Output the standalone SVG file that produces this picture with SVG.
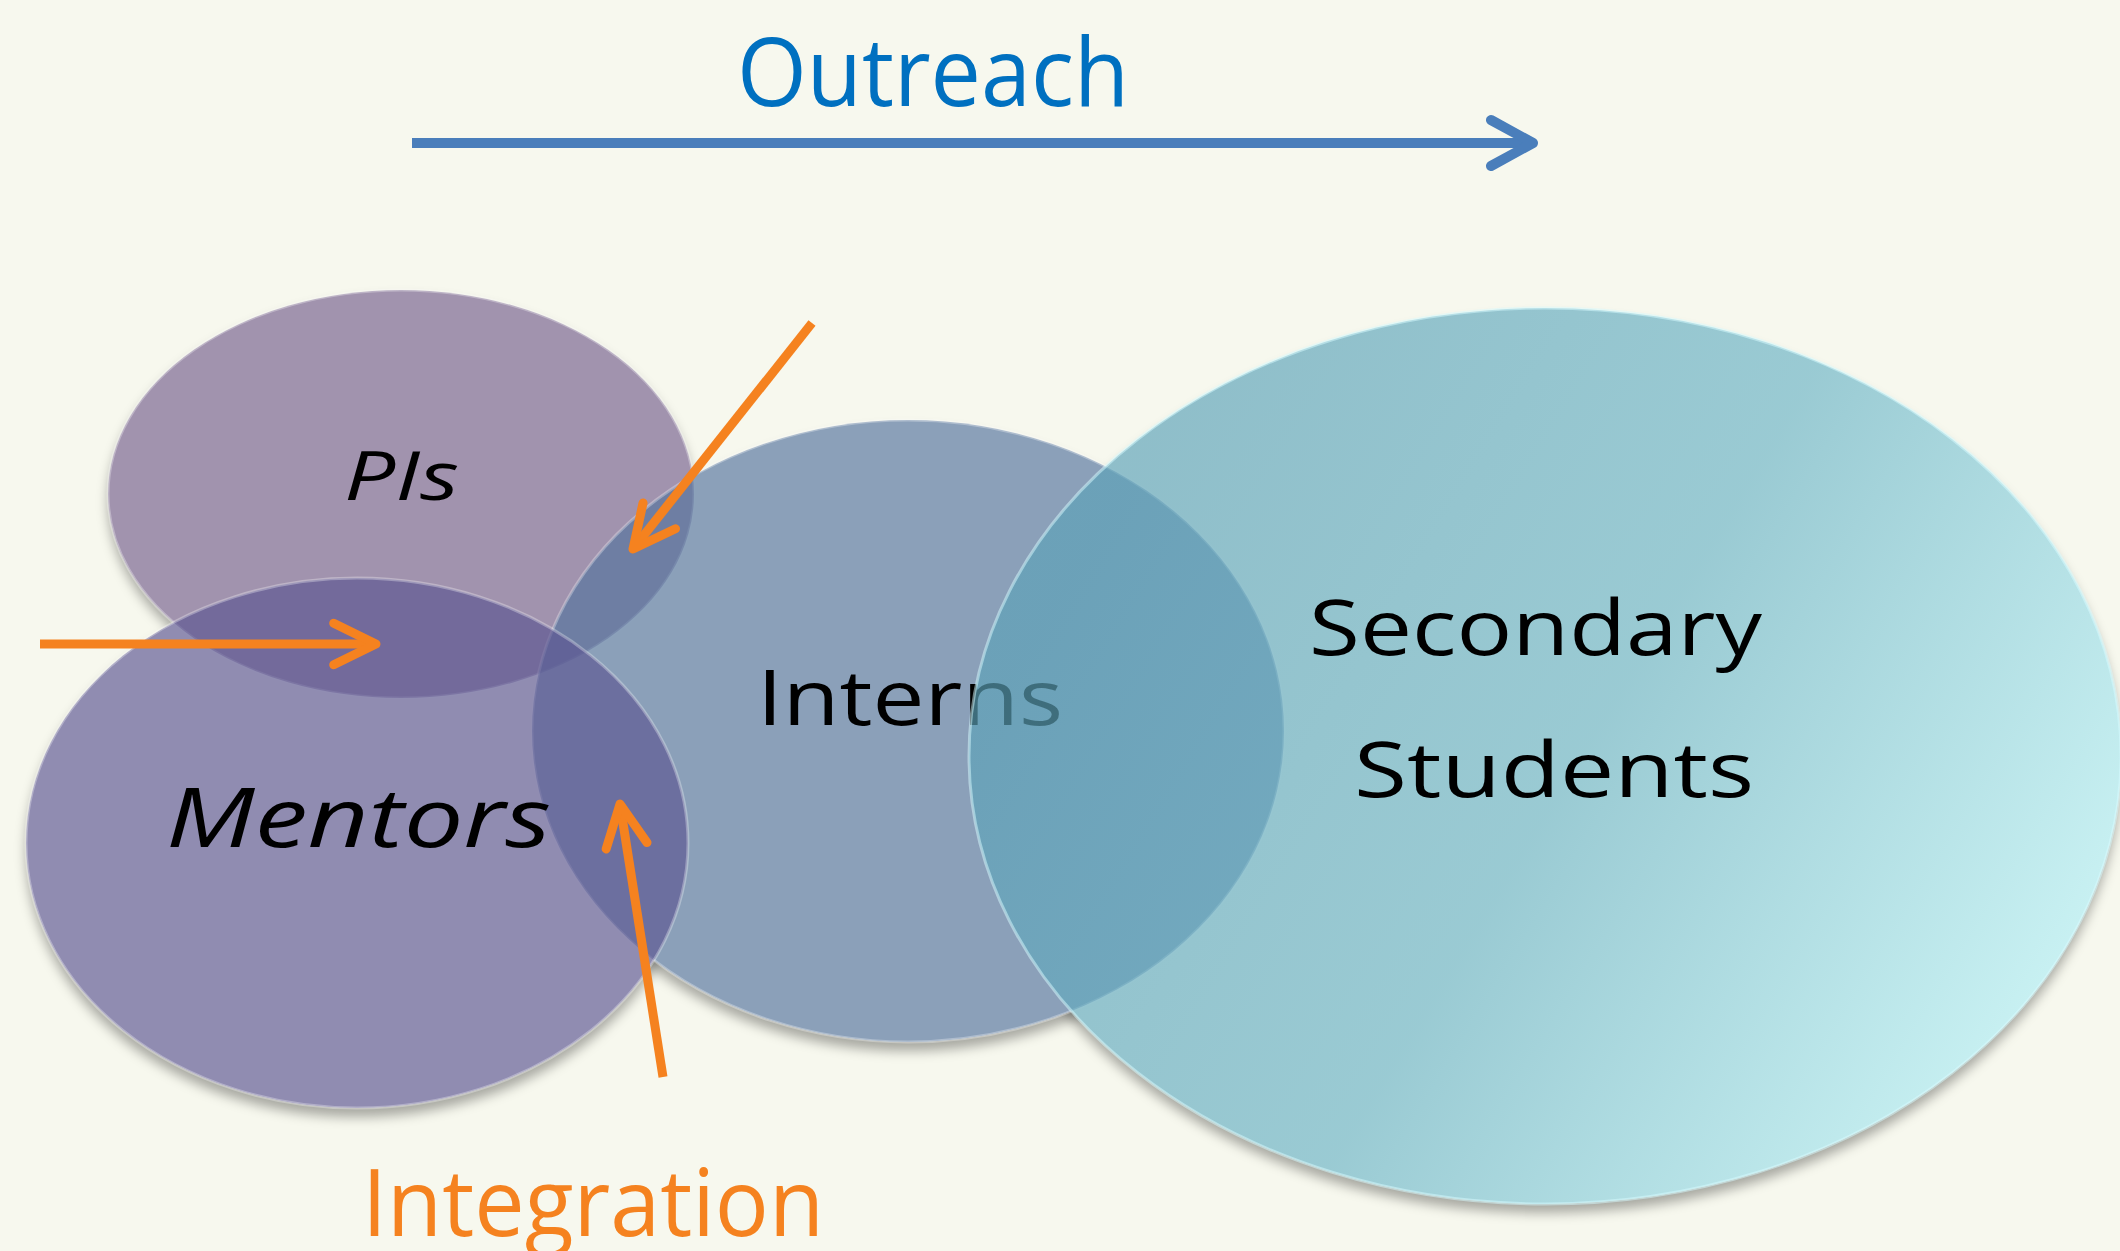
<svg xmlns="http://www.w3.org/2000/svg" width="2120" height="1251" viewBox="0 0 2120 1251">
  <style>
    .lbl { font-family: "Open Sans", "Liberation Sans", sans-serif; fill: #000000; }
    .dark { font-weight: 500; }
    .it { font-style: italic; }
    .blob { fill-opacity: 0.67; stroke: #ffffff; stroke-opacity: 0.3; stroke-width: 3; }
    .orange { fill: none; stroke: #f5821f; stroke-width: 9; marker-end: url(#oh); }
  </style>
  <defs>
    <marker id="oh" markerUnits="strokeWidth" markerWidth="10" markerHeight="10" refX="0" refY="0" orient="auto" overflow="visible">
      <path d="M-4.7,-2.3 L0,0 L-4.7,2.3" fill="none" stroke="#f5821f" stroke-width="1" stroke-linecap="round" stroke-linejoin="round"/>
    </marker>
    <marker id="bh" markerUnits="strokeWidth" markerWidth="10" markerHeight="10" refX="0" refY="0" orient="auto" overflow="visible">
      <path d="M-4.2,-2.3 L0,0 L-4.2,2.3" fill="none" stroke="#4a7ebb" stroke-width="1" stroke-linecap="round" stroke-linejoin="round"/>
    </marker>
    <linearGradient id="secGrad" gradientUnits="userSpaceOnUse" x1="1150" y1="450" x2="2050" y2="1000">
      <stop offset="0" stop-color="#5ca2b8"/>
      <stop offset="0.5" stop-color="#6cb4c6"/>
      <stop offset="1" stop-color="#b2eef5"/>
    </linearGradient>
    <filter id="blur" x="-10%" y="-10%" width="120%" height="120%">
      <feGaussianBlur stdDeviation="6"/>
    </filter>
    <mask id="outside" maskUnits="userSpaceOnUse" x="0" y="0" width="2120" height="1251">
      <rect x="0" y="0" width="2120" height="1251" fill="#ffffff"/>
      <ellipse cx="401" cy="494" rx="293" ry="204" fill="#000000"/>
      <ellipse cx="357" cy="843" rx="331" ry="265" fill="#000000"/>
      <ellipse cx="908" cy="731" rx="376" ry="311" fill="#000000"/>
      <ellipse cx="1545" cy="756" rx="576" ry="448" fill="#000000"/>
    </mask>
  </defs>

  <rect x="0" y="0" width="2120" height="1251" fill="#f7f8ee"/>

  <!-- soft shadows outside the shapes -->
  <g mask="url(#outside)">
    <g filter="url(#blur)" fill="#000000" fill-opacity="0.32">
      <ellipse cx="401" cy="502" rx="293" ry="204"/>
      <ellipse cx="357" cy="852" rx="331" ry="265"/>
      <ellipse cx="908" cy="740" rx="376" ry="311"/>
      <ellipse cx="1545" cy="765" rx="576" ry="448"/>
    </g>
  </g>

  <g id="title-outreach">
    <text class="lbl" x="737" y="106" font-size="95" textLength="392" lengthAdjust="spacingAndGlyphs" style="fill:#0070c0">Outreach</text>
  </g>

  <g id="node-pis">
    <ellipse class="blob" cx="401" cy="494" rx="293" ry="204" fill="#76618e"/>
    <text class="lbl dark it" x="344" y="500" font-size="67" textLength="115" lengthAdjust="spacingAndGlyphs">PIs</text>
  </g>

  <g id="node-interns">
    <ellipse class="blob" cx="908" cy="731" rx="376" ry="311" fill="#55759e"/>
    <text class="lbl dark" x="757" y="725" font-size="77" textLength="306" lengthAdjust="spacingAndGlyphs">Interns</text>
  </g>

  <g id="node-mentors">
    <ellipse class="blob" cx="357" cy="843" rx="331" ry="265" fill="#5d5792"/>
    <text class="lbl dark it" x="166" y="847" font-size="83" textLength="385" lengthAdjust="spacingAndGlyphs">Mentors</text>
  </g>

  <g id="node-secondary">
    <ellipse class="blob" cx="1545" cy="756" rx="576" ry="448" fill="url(#secGrad)" style="stroke:#d8fbff;stroke-opacity:0.5"/>
    <text class="lbl dark" x="1309" y="655" font-size="76" textLength="453" lengthAdjust="spacingAndGlyphs">Secondary</text>
    <text class="lbl dark" x="1354" y="797" font-size="77" textLength="400" lengthAdjust="spacingAndGlyphs">Students</text>
  </g>

  <g id="label-integration">
    <text class="lbl" x="362" y="1236" font-size="94" textLength="462" lengthAdjust="spacingAndGlyphs" style="fill:#f5821f">Integration</text>
  </g>

  <g id="connectors">
    <path d="M412,143 L1533,143" fill="none" stroke="#4a7ebb" stroke-width="10" marker-end="url(#bh)"/>
    <path class="orange" d="M40,644 L376,644"/>
    <path class="orange" d="M812,323 L633,549"/>
    <path class="orange" d="M663,1077 L620,804"/>
  </g>
</svg>
